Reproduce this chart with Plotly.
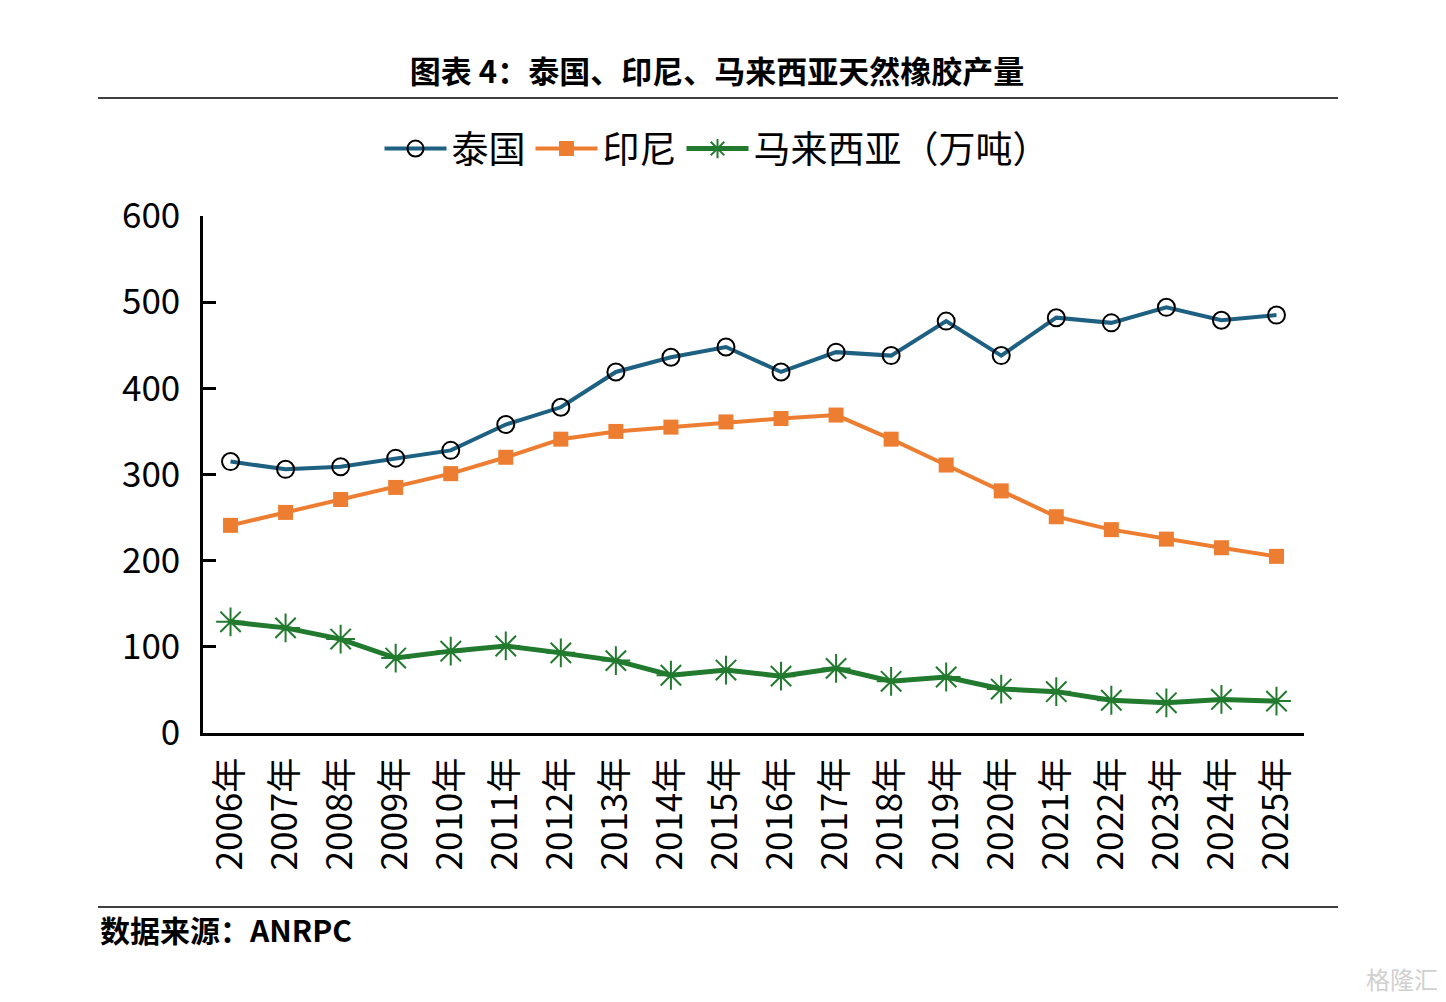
import plotly.graph_objects as go

FONT = "Noto Sans CJK SC, Noto Sans, sans-serif"

years = [f"{y}年" for y in range(2006, 2026)]
thailand = [315, 306, 309, 319, 328, 358, 378, 419, 436, 448,
            419, 442, 438, 478, 438, 482, 476, 494, 479, 485]
indonesia = [241, 256, 271, 285, 301, 320, 341, 350, 355, 361,
             365, 369, 341, 311, 281, 251, 236, 225, 215, 205]
malaysia = [129, 122, 109, 87, 95, 101, 93, 84, 67, 73,
            66, 75, 60, 65, 51, 48, 38, 35, 39, 37]
y_ticks = [0, 100, 200, 300, 400, 500, 600]

# plot area in pixels: x 203..1304, y 216..733
def px(x):
    return (x - 203) / 1101

def py(y):
    return (733 - y) / 517

fig = go.Figure()

fig.add_trace(go.Scatter(
    x=years, y=thailand, name="泰国", mode="lines+markers",
    line=dict(color="#1E6082", width=4),
    marker=dict(symbol="circle", size=17, color="rgba(255,255,255,0)",
                line=dict(color="black", width=2)),
))
fig.add_trace(go.Scatter(
    x=years, y=indonesia, name="印尼", mode="lines+markers",
    line=dict(color="#ED7D31", width=4),
    marker=dict(symbol="square", size=15, color="#ED7D31"),
))
fig.add_trace(go.Scatter(
    x=years, y=malaysia, name="马来西亚（万吨）", mode="lines+markers",
    line=dict(color="#217A2E", width=5),
    marker=dict(symbol="asterisk-open", size=24,
                line=dict(color="#217A2E", width=2)),
))

fig.update_layout(
    width=1446, height=1002,
    paper_bgcolor="white", plot_bgcolor="white",
    margin=dict(l=203, r=142, t=216, b=269),
    font=dict(family=FONT, color="black"),
    showlegend=True,
    legend=dict(orientation="h", x=px(717), xanchor="center", y=py(149), yanchor="middle",
                font=dict(size=37, family=FONT), itemwidth=62,
                tracegroupgap=0, bgcolor="rgba(0,0,0,0)"),
    title=dict(text="<b>图表 4：泰国、印尼、马来西亚天然橡胶产量</b>",
               x=717 / 1446, xanchor="center", y=1 - 72 / 1002, yanchor="middle",
               font=dict(size=31, family=FONT)),
)

fig.update_xaxes(
    type="category", range=[-0.5, 19.5],
    showline=True, linecolor="black", linewidth=2.5,
    ticks="", tickangle=-90, ticklabelstandoff=8,
    tickfont=dict(size=35, family=FONT),
    showgrid=False, zeroline=False,
)
fig.update_yaxes(
    range=[0, 600], tickvals=y_ticks,
    showline=True, linecolor="black", linewidth=2.5,
    ticks="inside", ticklen=13, tickwidth=2.5, tickcolor="black",
    ticklabelstandoff=13,
    tickfont=dict(size=35, family=FONT),
    showgrid=False, zeroline=False,
)

# header and footer rules
for yy in [98, 907]:
    fig.add_shape(type="line", xref="paper", yref="paper",
                  x0=px(98), x1=px(1338), y0=py(yy), y1=py(yy),
                  line=dict(color="black", width=1.5))

fig.add_annotation(text="<b>数据来源：ANRPC</b>", xref="paper", yref="paper",
                   x=px(98), xanchor="left", y=py(929), yanchor="middle",
                   showarrow=False, font=dict(size=30, family=FONT))
fig.add_annotation(text="格隆汇", xref="paper", yref="paper",
                   x=px(1440), xanchor="right", y=py(978), yanchor="middle",
                   showarrow=False, font=dict(size=24, family=FONT, color="#d0d0d0"))

fig.write_html("out.html", config={"displayModeBar": False},
               post_script="document.body.style.margin='0';")
